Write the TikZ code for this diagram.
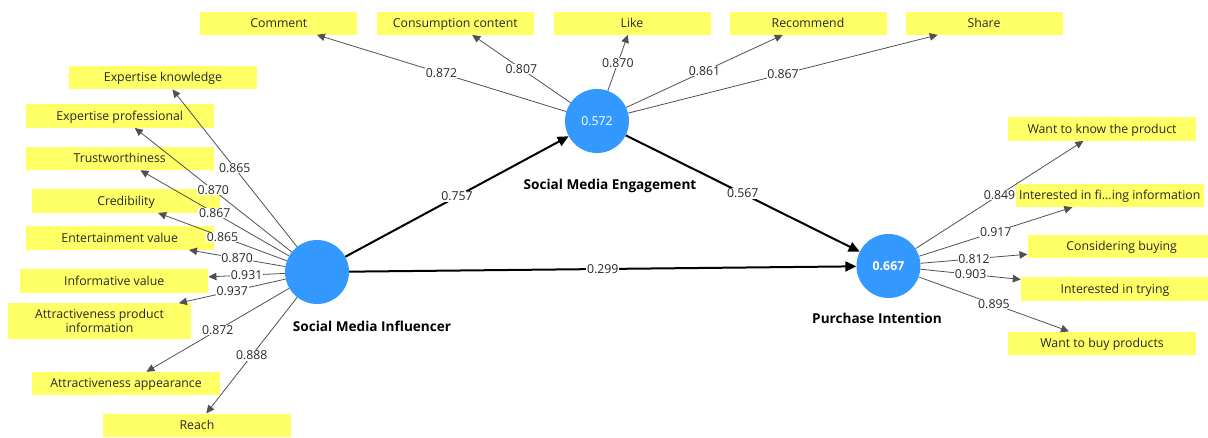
\documentclass[tikz,border=0pt]{standalone}
\usepackage{fontspec}
\setmainfont{Open Sans}
\usetikzlibrary{arrows.meta}
\definecolor{boxyellow}{RGB}{255,255,102}
\definecolor{latblue}{RGB}{51,153,255}
\definecolor{txtgray}{RGB}{40,40,40}
\definecolor{linegray}{RGB}{80,80,80}
\tikzset{
  ind/.style={fill=boxyellow, inner sep=0pt, minimum width=188pt, minimum height=23.5pt, text=txtgray, font=\fontsize{12.3}{14}\selectfont, align=center, text height=8.4pt, text depth=0pt},
  indtop/.style={ind, minimum width=157pt, minimum height=23pt},
  lat/.style={circle, fill=latblue, inner sep=0pt, minimum size=64pt, text=white, font=\fontsize{12.3}{14}\selectfont},
  latlbl/.style={font=\fontsize{13.6}{15}\selectfont\bfseries, text=black},
  lbl/.style={fill=white, inner sep=0.6pt, text=txtgray, font=\fontsize{12.3}{14}\selectfont},
  load/.style={draw=linegray, line width=0.8pt, -{Triangle[length=8pt,width=7.5pt]}},
  path/.style={draw=black, line width=2pt, -{Triangle[length=11pt,width=10pt]}}
}
\begin{document}
\begin{tikzpicture}[x=1pt,y=-1pt]
\useasboundingbox (0,0) rectangle (1208,437);
% latent variables
\node[lat] (smi) at (317,272) {};
\node[lat] (sme) at (597,121) {0.572};
\node[lat] (pi) at (888.5,266) {\bfseries 0.667};
\node[latlbl] (smil) at (372,326) {Social Media Influencer};
\node[latlbl] (smel) at (610,186) {Social Media Engagement};
\node[latlbl] (pil) at (877,318) {Purchase Intention};
% top indicators
\node[indtop] (co) at (278.8,23.2) {Comment};
\node[indtop] (cc) at (455.3,23.2) {Consumption content};
\node[indtop] (li) at (632,23.2) {Like};
\node[indtop] (rc) at (808,23.2) {Recommend};
\node[indtop] (sh) at (984,23.2) {Share};
% left indicators
\node[ind] (ek) at (163,77.5) {Expertise knowledge};
\node[ind] (ep) at (119.7,116) {Expertise professional};
\node[ind] (tw) at (119.7,158.3) {Trustworthiness};
\node[ind] (cr) at (126,201) {Credibility};
\node[ind] (ev) at (119.7,238) {Entertainment value};
\node[ind] (iv) at (114.2,281) {Informative value};
\node[ind, minimum width=183pt, minimum height=35.4pt, text height=, text depth=, font=\fontsize{12.3}{13.5}\selectfont] (api) at (99.5,321) {Attractiveness product\\information};
\node[ind] (aa) at (126,383.7) {Attractiveness appearance};
\node[ind] (re) at (197,425.3) {Reach};
% right indicators
\node[ind] (wk) at (1102,129) {Want to know the product};
\node[ind] (if) at (1109.7,195.3) {Interested in fi...ing information};
\node[ind] (cb) at (1121.7,246.3) {Considering buying};
\node[ind] (it) at (1115,289) {Interested in trying};
\node[ind] (wb) at (1102,343.3) {Want to buy products};
% loadings SME
\draw[load] (sme) -- node[lbl]{0.872} (co);
\draw[load] (sme) -- node[lbl]{0.807} (cc);
\draw[load] (sme) -- node[lbl]{0.870} (li);
\draw[load] (sme) -- node[lbl]{0.861} (rc);
\draw[load] (sme) -- node[lbl]{0.867} (sh);
% loadings SMI
\draw[load] (smi) -- node[lbl]{0.865} (ek);
\draw[load] (smi) -- node[lbl]{0.870} (ep);
\draw[load] (smi) -- node[lbl]{0.867} (tw);
\draw[load] (smi) -- node[lbl]{0.865} (cr);
\draw[load] (smi) -- node[lbl]{0.870} (ev);
\draw[load] (smi) -- node[lbl]{0.931} (iv);
\draw[load] (smi) -- node[lbl]{0.937} (api);
\draw[load] (smi) -- node[lbl]{0.872} (aa);
\draw[load] (smi) -- node[lbl]{0.888} (re);
% loadings PI
\draw[load] (pi) -- node[lbl]{0.849} (wk);
\draw[load] (pi) -- node[lbl]{0.917} (if);
\draw[load] (pi) -- node[lbl]{0.812} (cb);
\draw[load] (pi) -- node[lbl]{0.903} (it);
\draw[load] (pi) -- node[lbl]{0.895} (wb);
% structural paths
\draw[path] (smi) -- node[lbl]{0.757} (sme);
\draw[path] (sme) -- node[lbl]{0.567} (pi);
\draw[path] (smi) -- node[lbl]{0.299} (pi);
\end{tikzpicture}
\end{document}
